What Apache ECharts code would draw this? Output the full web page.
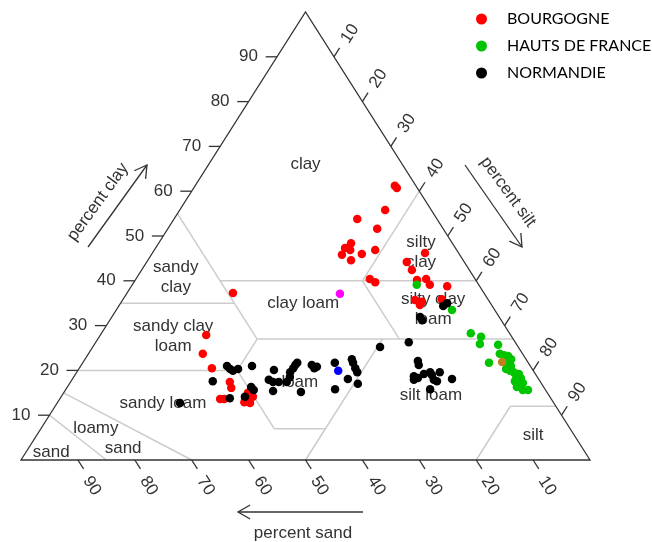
<!DOCTYPE html>
<html><head><meta charset="utf-8">
<script src="https://cdn.jsdelivr.net/npm/echarts@6/dist/echarts.min.js"></script>
<style>html,body{margin:0;padding:0;background:#fff}#c{width:652px;height:542px}</style>
</head><body><div id="c"></div>
<script>
// ---- data (percent clay / percent silt; sand = 100 - clay - silt) ----
const bourgogneClay = [61.2,60.7,55.8,53.8,51.6,48.4,47.3,46.9,45.8,46.0,46.9,44.6,46.2,44.2,42.4,40.4,39.7,40.2,40.4,39.1,38.8,35.7,35.3,34.6,35.9,37.3,27.9,23.7,20.5,17.4,16.1,13.6,13.6,15.0,14.1,13.4,12.9,12.7];
const bourgogneSilt = [35.1,35.7,36.1,32.2,36.8,33.8,33.3,34.4,33.5,36.9,38.8,35.7,47.9,45.7,47.5,41.1,42.4,49.5,51.0,52.3,55.5,51.4,52.8,52.8,56.0,18.6,18.6,20.1,23.3,28.0,28.9,28.2,28.9,32.4,33.7,32.8,32.8,33.9];
const hautsClay = [39.1,33.5,28.3,27.5,25.9,25.7,21.7,23.7,23.4,23.2,22.5,21.7,21.0,20.3,19.9,19.6,19.2,18.5,18.3,17.6,17.2,17.2,16.3,15.6,15.6];
const hautsSilt = [50.0,59.0,64.9,67.1,67.7,71.0,71.4,72.3,73.2,74.0,74.9,74.6,75.6,75.1,76.0,76.8,77.9,77.8,78.7,78.0,78.9,79.6,79.0,80.4,81.3];
const normandieClay = [34.4,35.0,31.9,31.2,25.2,26.3,22.1,21.2,18.7,18.3,17.9,19.2,19.6,19.0,19.6,17.9,17.6,18.1,15.8,21.0,20.3,19.9,20.3,21.0,17.6,16.3,15.6,13.8,14.1,12.7,20.1,17.9,17.4,17.4,15.4,19.6,20.5,21.2,21.7,18.5,17.4,21.2,20.5,20.8,15.2,21.7,22.5,21.7,20.5,19.6,18.1,17.0,15.8];
const normandieSilt = [57.0,57.4,54.2,54.9,50.5,55.0,58.7,59.3,59.7,60.6,60.1,61.2,62.1,62.7,63.8,63.6,64.3,66.7,64.0,25.7,26.6,27.3,28.0,30.1,24.9,32.3,33.1,29.8,32.3,21.6,34.4,34.6,35.6,36.6,36.6,37.5,37.6,37.6,37.7,38.0,38.0,40.5,41.3,41.6,41.6,44.3,46.9,47.5,48.5,49.3,48.4,50.7,47.3];
const extraClay = [21.9,19.9,37.1];
const extraSilt = [73.6,45.8,37.5];
const tickValues = [10,20,30,40,50,60,70,80,90];
const seriesNames = ['BOURGOGNE','HAUTS DE FRANCE','NORMANDIE'];
// USDA texture class boundaries, [sand, silt, clay]
const boundaries = [
  [[85,15,0],[90,0,10]],
  [[70,30,0],[85,0,15]],
  [[80,0,20],[52,28,20]],
  [[52,28,20],[52,41,7]],
  [[52,41,7],[43,50,7]],
  [[50,50,0],[23,50,27]],
  [[52,28,20],[45,28,27]],
  [[45,28,27],[45,0,55]],
  [[65,0,35],[45,20,35]],
  [[45,28,27],[0,73,27]],
  [[45,15,40],[0,60,40]],
  [[20,53,27],[20,40,40]],
  [[20,40,40],[0,40,60]],
  [[20,80,0],[8,80,12]],
  [[8,80,12],[0,88,12]]
];
const classNames = ['clay','silty\nclay','sandy\nclay','clay loam','silty clay\nloam','sandy clay\nloam','loam','sandy loam','silt loam','loamy','sand','sand','silt'];
const classAnchors = [[17,17,66],[6.5,47.1,46.4],[52.4,6.8,40.8],[32.9,32.1,35.0],[10.7,55.6,33.7],[59.4,12.9,27.7],[42.3,40.3,17.4],[68.7,18.6,12.7],[20.7,64.8,14.5],[83.3,9.6,7.1],[80.7,16.6,2.7],[93.8,4.4,1.8],[7.2,87.2,5.6]];

// ---- styles ----
const colors = ['#ff0000','#00c400','#000000'];
const extraColors = ['#c0801e','#0000ff','#ff00ff'];
const textColor = '#333';
const FONT = '"Liberation Sans", Arial, sans-serif';

function toXY(clay, silt){ return [silt + clay/2, clay, 100 - clay - silt, silt, clay]; }
function pts(cl, si){ return cl.map((c,i)=>toXY(c, si[i])); }

const chart = echarts.init(document.getElementById('c'), null, {renderer:'canvas'});
const deg = Math.PI/180;

function renderFrame(params, api){
  const P = (s,t,c) => api.coord([t + c/2, c]);
  const ch = [];
  boundaries.forEach(seg => {
    const a = P(...seg[0]), b = P(...seg[1]);
    ch.push({type:'line', shape:{x1:a[0],y1:a[1],x2:b[0],y2:b[1]}, style:{stroke:'#cccccc', lineWidth:1.5}});
  });
  const A = P(100,0,0), B = P(0,100,0), C = P(0,0,100);
  ch.push({type:'polygon', shape:{points:[A,B,C]}, style:{fill:null, stroke:'#333', lineWidth:1.3}});
  const tstyle = (txt) => ({text:txt, fill:textColor, fontSize:17, fontFamily:FONT, align:'center', verticalAlign:'middle'});
  tickValues.forEach(v => {
    // clay (left edge)
    let e = P(100-v,0,v), o = P(102-v,-2,v);
    ch.push({type:'line', shape:{x1:e[0],y1:e[1],x2:o[0],y2:o[1]}, style:{stroke:'#333', lineWidth:1.3}});
    ch.push({type:'text', x:e[0]-28.5, y:e[1], style:tstyle(String(v))});
    // sand (bottom edge)
    e = P(v,100-v,0); o = P(v,102-v,-2);
    ch.push({type:'line', shape:{x1:e[0],y1:e[1],x2:o[0],y2:o[1]}, style:{stroke:'#333', lineWidth:1.3}});
    ch.push({type:'text', x:e[0]+14, y:e[1]+26, rotation:-57*deg, style:tstyle(String(v))});
    // silt (right edge)
    e = P(0,v,100-v); o = P(-2,v,102-v);
    ch.push({type:'line', shape:{x1:e[0],y1:e[1],x2:o[0],y2:o[1]}, style:{stroke:'#333', lineWidth:1.3}});
    ch.push({type:'text', x:e[0]+16, y:e[1]-23, rotation:57*deg, style:tstyle(String(v))});
  });
  classNames.forEach((n,i) => {
    const p = P(...classAnchors[i]);
    const st = tstyle(n); st.lineHeight = 20;
    ch.push({type:'text', x:p[0], y:p[1], style:st});
  });
  return {type:'group', children:ch};
}

function arrow(x1,y1,x2,y2){
  const dx=x2-x1, dy=y2-y1, L=Math.hypot(dx,dy), ux=-dx/L, uy=-dy/L, h=14, a=Math.PI/6;
  const w1=[x2 + h*(ux*Math.cos(a)-uy*Math.sin(a)), y2 + h*(ux*Math.sin(a)+uy*Math.cos(a))];
  const w2=[x2 + h*(ux*Math.cos(-a)-uy*Math.sin(-a)), y2 + h*(ux*Math.sin(-a)+uy*Math.cos(-a))];
  const st = {stroke:'#333', lineWidth:1.3, fill:null};
  return [{type:'line', shape:{x1,y1,x2,y2}, style:st}, {type:'polyline', shape:{points:[w1,[x2,y2],w2]}, style:st}];
}
const titleStyle = (t) => ({text:t, fill:textColor, fontSize:17, fontFamily:FONT, align:'center', verticalAlign:'middle'});

const scatterBase = {type:'scatter', symbol:'circle', symbolSize:8.5, z:5};

chart.setOption({
  animation:false,
  grid:{left:21, top:12, width:569, height:448},
  xAxis:{type:'value', min:0, max:100, show:false},
  yAxis:{type:'value', min:0, max:100, show:false},
  legend:{
    orient:'vertical', left:476, top:9, padding:0, itemWidth:11, itemHeight:11, itemGap:7, icon:'circle',
    data:seriesNames,
    itemStyle:{opacity:1},
    textStyle:{fontFamily:'Lato', fontSize:16, color:'#000', lineHeight:20, padding:[0,0,0,15]}
  },
  graphic:[
    ...arrow(88,247,147,165),
    {type:'text', x:98, y:202, rotation:54*deg, style:titleStyle('percent clay')},
    ...arrow(465,165,522,247),
    {type:'text', x:508, y:192, rotation:-54*deg, style:titleStyle('percent silt')},
    ...arrow(363,512,238,512),
    {type:'text', x:303, y:533, style:titleStyle('percent sand')}
  ],
  series:[
    {type:'custom', name:'frame', data:[[0,0]], renderItem:renderFrame, silent:true, clip:false, z:1},
    Object.assign({}, scatterBase, {name:seriesNames[0], data:pts(bourgogneClay,bourgogneSilt), itemStyle:{color:colors[0], opacity:1}}),
    Object.assign({}, scatterBase, {name:seriesNames[1], data:pts(hautsClay,hautsSilt), itemStyle:{color:colors[1], opacity:1}}),
    Object.assign({}, scatterBase, {name:seriesNames[2], data:pts(normandieClay,normandieSilt), itemStyle:{color:colors[2], opacity:1}}),
    Object.assign({}, scatterBase, {name:'other', z:6, data:extraClay.map((c,i)=>({value:toXY(c,extraSilt[i]), itemStyle:{color:extraColors[i], opacity:1}}))})
  ]
});
</script></body></html>
